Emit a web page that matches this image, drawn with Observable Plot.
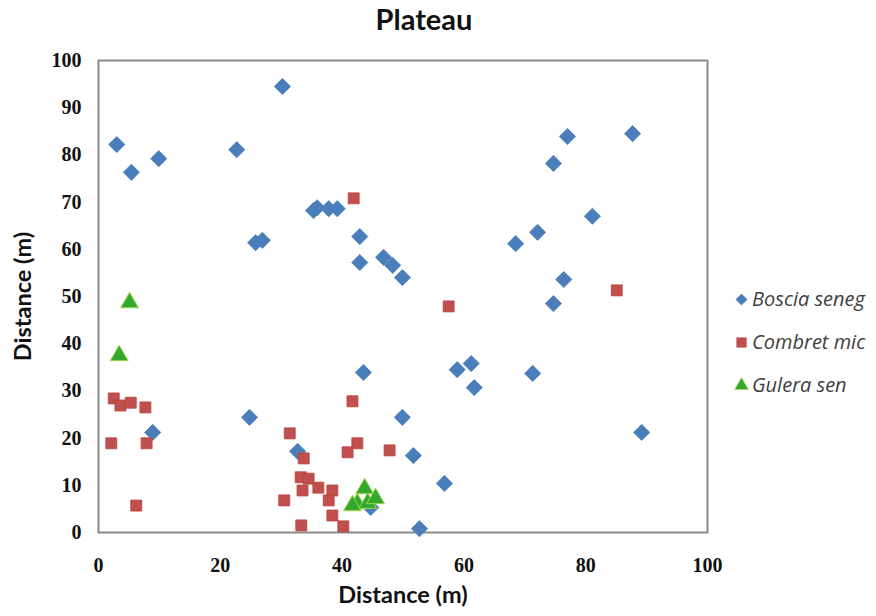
<!DOCTYPE html>
<html>
<head>
<meta charset="utf-8">
<script src="https://cdn.jsdelivr.net/npm/d3@7"></script>
<script src="https://cdn.jsdelivr.net/npm/@observablehq/plot@0.6"></script>
<style>
  html, body { margin: 0; padding: 0; background: #fff; }
  #wrap { position: relative; width: 876px; height: 616px; overflow: hidden; }
  #title { position: absolute; left: 0; width: 848px; top: 1px; text-align: center;
           font-family: Lato, "Open Sans", sans-serif; font-weight: 700; font-size: 29px; color: #111; }
  #legend { position: absolute; left: 734px; top: 285px; font-family: "Open Sans", sans-serif;
            font-style: italic; font-size: 20px; color: #404040; }
  #legend .row { height: 43px; display: flex; align-items: flex-start; white-space: nowrap; }
  #legend svg { margin-right: 3px; margin-top: 7px; }
</style>
</head>
<body>
<div id="wrap">
  <div id="title">Plateau</div>
  <div id="chart"></div>
  <div id="legend"></div>
</div>
<script>
// Series names
const seriesNames = ["Boscia seneg", "Combret mic", "Gulera sen"];
const seriesColors = ["#4a7ebb", "#c0504d", "#34a82c"];
const seriesStrokes = ["#4a7ebb", "#b94441", "#9ad84e"];

// Boscia seneg
const bosciaX = [3.0, 5.4, 9.9, 22.7, 30.2, 35.3, 35.9, 37.8, 39.2, 25.8, 26.9, 42.9, 42.9, 46.8, 48.3, 49.9,
  77.0, 74.7, 87.7, 81.1, 68.5, 72.1, 76.4, 74.7, 43.5, 58.9, 61.2, 61.7, 71.3, 49.9, 51.7, 56.8, 52.7, 44.7,
  24.8, 8.9, 32.7, 89.2];
const bosciaY = [82.2, 76.3, 79.2, 81.1, 94.5, 68.2, 68.8, 68.6, 68.6, 61.4, 61.9, 62.7, 57.2, 58.3, 56.6, 54.0,
  83.9, 78.2, 84.5, 67.0, 61.2, 63.6, 53.6, 48.5, 33.9, 34.5, 35.8, 30.7, 33.7, 24.4, 16.3, 10.4, 0.8, 5.3,
  24.4, 21.2, 17.2, 21.2];

// Combret mic
const combretX = [41.9, 57.5, 85.1, 41.7, 42.5, 40.9, 47.8, 2.5, 3.6, 5.3, 7.7, 2.1, 7.9, 6.2, 31.4, 33.7,
  30.5, 33.3, 33.2, 34.5, 33.5, 36.1, 38.4, 37.8, 38.4, 40.2];
const combretY = [70.8, 47.9, 51.3, 27.8, 18.9, 17.0, 17.4, 28.4, 26.9, 27.5, 26.5, 18.9, 18.9, 5.7, 21.0, 15.7,
  6.8, 1.5, 11.7, 11.4, 8.9, 9.5, 8.9, 6.8, 3.6, 1.3];

// Gulera sen
const guleraX = [5.1, 3.4, 43.7, 42.5, 41.7, 44.2, 45.5];
const guleraY = [48.7, 37.5, 9.3, 6.1, 5.7, 6.2, 7.2];

// Axis ticks
const xTicks = [0, 20, 40, 60, 80, 100];
const yTicks = [0, 10, 20, 30, 40, 50, 60, 70, 80, 90, 100];

const toRows = (xs, ys, s) => xs.map((x, i) => ({x, y: ys[i], s}));
const boscia = toRows(bosciaX, bosciaY, seriesNames[0]);
const combret = toRows(combretX, combretY, seriesNames[1]);
const gulera = toRows(guleraX, guleraY, seriesNames[2]);

const chart = Plot.plot({
  width: 876,
  height: 616,
  marginLeft: 98,
  marginRight: 169,
  marginTop: 60,
  marginBottom: 84,
  style: { fontFamily: "'Liberation Serif', serif", fontSize: "20px", fontWeight: "bold", color: "#111", background: "#fff" },
  x: { domain: [0, 100], label: null },
  y: { domain: [0, 100], label: null },
  marks: [
    Plot.frame({ stroke: "#8a8a8a", strokeWidth: 2 }),
    Plot.axisX({ ticks: xTicks, tickSize: 0, tickPadding: 25, label: null }),
    Plot.axisY({ ticks: yTicks, tickSize: 0, tickPadding: 17, label: null }),
    Plot.dot(boscia, { x: "x", y: "y", symbol: "diamond2", r: 7.3, fill: seriesColors[0], stroke: seriesStrokes[0], strokeWidth: 0.8 }),
    Plot.dot(combret, { x: "x", y: "y", symbol: "square", r: 6.2, fill: seriesColors[1], stroke: seriesStrokes[1], strokeWidth: 0.8 }),
    Plot.dot(gulera, { x: "x", y: "y", symbol: "triangle", r: 6.6, fill: seriesColors[2], stroke: seriesStrokes[2], strokeWidth: 1 }),
    Plot.text(["Distance (m)"], { frameAnchor: "bottom", dy: 70, fontFamily: "Lato, 'Open Sans', sans-serif", fontWeight: "bold", fontSize: 23.5, fill: "#111" }),
    Plot.text(["Distance (m)"], { frameAnchor: "left", textAnchor: "middle", dx: -75, rotate: -90, fontFamily: "Lato, 'Open Sans', sans-serif", fontWeight: "bold", fontSize: 23.5, fill: "#111" })
  ]
});
document.getElementById("chart").appendChild(chart);

// Legend
const legend = document.getElementById("legend");
const syms = [d3.symbolDiamond2, d3.symbolSquare, d3.symbolTriangle];
const sizes = [80, 90, 80];
seriesNames.forEach((name, i) => {
  const row = document.createElement("div");
  row.className = "row";
  const s = d3.create("svg").attr("width", 15).attr("height", 15);
  s.append("path").attr("transform", "translate(7.5,7.5)")
    .attr("d", d3.symbol(syms[i], sizes[i])())
    .attr("fill", seriesColors[i]).attr("stroke", seriesStrokes[i]).attr("stroke-width", 0.6);
  row.appendChild(s.node());
  const t = document.createElement("span");
  t.textContent = name;
  row.appendChild(t);
  legend.appendChild(row);
});
</script>
</body>
</html>
